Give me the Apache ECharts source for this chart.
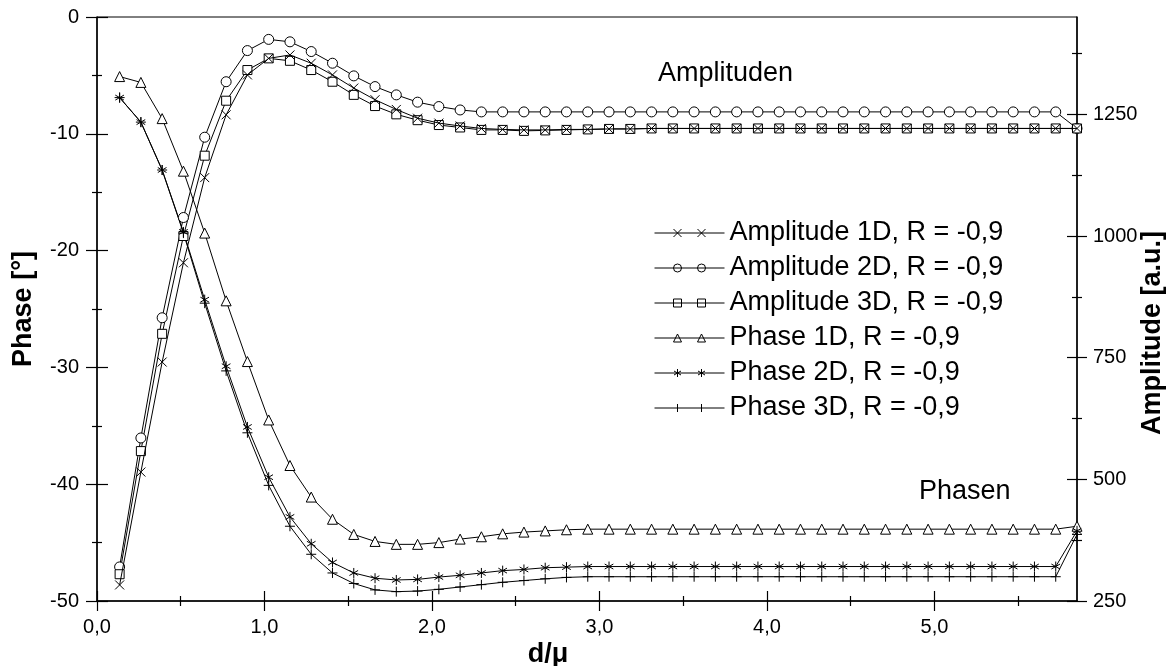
<!DOCTYPE html>
<html>
<head>
<meta charset="utf-8">
<script src="https://cdn.jsdelivr.net/npm/echarts@6/dist/echarts.min.js"></script>
<style>
html,body{margin:0;padding:0;background:#fff;}
#chart{width:1169px;height:666px;}
</style>
</head>
<body>
<div id="chart"></div>
<script>
// ---- data ----
const dValues = [0.135,0.262,0.389,0.516,0.643,0.771,0.898,1.025,1.152,1.279,1.406,1.533,1.660,1.787,1.914,2.041,2.168,2.295,2.422,2.549,2.676,2.803,2.930,3.057,3.184,3.311,3.438,3.565,3.692,3.819,3.946,4.073,4.200,4.327,4.454,4.581,4.708,4.835,4.962,5.089,5.216,5.343,5.470,5.597,5.724,5.851];

const amp1D = [283,515,741,945,1120,1249,1331,1365,1372,1355,1331,1304,1280,1260,1242,1232,1226,1221,1219,1218,1218,1219,1219,1220,1220,1221,1221,1221,1221,1221,1221,1221,1221,1221,1221,1221,1221,1221,1221,1221,1221,1221,1221,1221,1221,1221];
const amp2D = [320,585,832,1038,1203,1317,1381,1404,1399,1379,1355,1329,1307,1290,1275,1266,1259,1255,1255,1255,1255,1255,1255,1255,1255,1255,1255,1255,1255,1255,1255,1255,1255,1255,1255,1255,1255,1255,1255,1255,1255,1255,1255,1255,1255,1221];
const amp3D = [305,558,799,1000,1165,1278,1341,1365,1360,1341,1317,1290,1267,1250,1238,1228,1223,1218,1218,1216,1217,1218,1219,1220,1220,1221,1221,1221,1221,1221,1221,1221,1221,1221,1221,1221,1221,1221,1221,1221,1221,1221,1221,1221,1221,1221];

const phase1D = [-5.1,-5.6,-8.7,-13.2,-18.5,-24.3,-29.5,-34.5,-38.4,-41.1,-43.0,-44.3,-44.9,-45.15,-45.15,-45.0,-44.7,-44.5,-44.25,-44.1,-44.0,-43.9,-43.85,-43.85,-43.85,-43.85,-43.85,-43.85,-43.85,-43.85,-43.85,-43.85,-43.85,-43.85,-43.85,-43.85,-43.85,-43.85,-43.85,-43.85,-43.85,-43.85,-43.85,-43.85,-43.85,-43.6];
const phase2D = [-6.9,-9.0,-13.1,-18.4,-24.2,-29.9,-35.1,-39.4,-42.8,-45.1,-46.7,-47.6,-48.05,-48.2,-48.15,-47.95,-47.8,-47.6,-47.4,-47.3,-47.15,-47.1,-47.05,-47.05,-47.05,-47.05,-47.05,-47.05,-47.05,-47.05,-47.05,-47.05,-47.05,-47.05,-47.05,-47.05,-47.05,-47.05,-47.05,-47.05,-47.05,-47.05,-47.05,-47.05,-47.05,-44.0];
const phase3D = [-6.9,-9.0,-13.1,-18.5,-24.5,-30.3,-35.6,-40.1,-43.6,-46.0,-47.6,-48.5,-49.05,-49.2,-49.15,-49.0,-48.8,-48.6,-48.4,-48.25,-48.1,-47.98,-47.92,-47.92,-47.92,-47.92,-47.92,-47.92,-47.92,-47.92,-47.92,-47.92,-47.92,-47.92,-47.92,-47.92,-47.92,-47.92,-47.92,-47.92,-47.92,-47.92,-47.92,-47.92,-47.92,-44.3];

const seriesNames = ['Amplitude 1D, R = -0,9','Amplitude 2D, R = -0,9','Amplitude 3D, R = -0,9','Phase 1D, R = -0,9','Phase 2D, R = -0,9','Phase 3D, R = -0,9'];

const xTickValues = [0,1,2,3,4,5];
const xMinorValues = [0.5,1.5,2.5,3.5,4.5,5.5];
const ampTickValues = [250,500,750,1000,1250];
const ampMinorValues = [375,625,875,1125,1375];

// ---- styling ----
const FONT = '"Liberation Sans", Arial, Helvetica, sans-serif';
const BLACK = '#000';
const xMin = 0, xMax = dValues[dValues.length - 1];
const phaseMin = -50, phaseMax = 0;
const ampMin = 250, ampMax = 1450;

const SYM_CROSS = 'path://M0,0L10,10M10,0L0,10';
const SYM_STAR = 'path://M5,0L5,10M0.67,2.5L9.33,7.5M9.33,2.5L0.67,7.5';
const SYM_PLUS = 'path://M5,0L5,10M0,5L10,5';

const legendIcons = [
  'path://M0,4L70,4M19,0L27,8M27,0L19,8M43,0L51,8M51,0L43,8',
  'path://M0,4L70,4M19,4A4,4 0 1 1 27,4A4,4 0 1 1 19,4M43,4A4,4 0 1 1 51,4A4,4 0 1 1 43,4',
  'path://M0,4L70,4M19,0L27,0L27,8L19,8ZM43,0L51,0L51,8L43,8Z',
  'path://M0,4L70,4M23,0L27,8L19,8ZM47,0L51,8L43,8Z',
  'path://M0,4L70,4M23,0L23,8M19.5,2L26.5,6M26.5,2L19.5,6M47,0L47,8M43.5,2L50.5,6M50.5,2L43.5,6',
  'path://M0,4L70,4M23,0L23,8M47,0L47,8'
];

function toPairs(arr){ return dValues.map((d, i) => [d, arr[i]]); }

function makeSeries(name, arr, yIdx, symbol, size, z){
  return {
    name: name,
    type: 'line',
    xAxisIndex: 0,
    yAxisIndex: yIdx,
    data: toPairs(arr),
    symbol: symbol,
    symbolSize: size,
    symbolKeepAspect: true,
    showSymbol: true,
    showAllSymbol: true,
    z: z,
    lineStyle: { color: BLACK, width: 1 },
    itemStyle: { color: '#fff', borderColor: BLACK, borderWidth: 1 },
    emphasis: { disabled: true },
    animation: false
  };
}

const tickLine = { color: BLACK, width: 1.2 };
const axisLineStyle = { color: BLACK, width: 1.5 };

function xAxisDef(values, inside, len, labelled){
  return {
    type: 'value', min: xMin, max: xMax, position: 'bottom',
    axisLine: { show: labelled, onZero: false, lineStyle: axisLineStyle },
    axisTick: { show: true, inside: inside, length: len, customValues: values, lineStyle: tickLine },
    axisLabel: labelled ? {
      show: true, customValues: xTickValues, margin: 16, color: BLACK, fontSize: 20, fontFamily: FONT,
      formatter: v => v.toFixed(1).replace('.', ',')
    } : { show: false },
    splitLine: { show: false }
  };
}

function phaseAxisDef(inside, labelled){
  return {
    type: 'value', min: phaseMin, max: phaseMax, interval: 10, position: 'left',
    axisLine: { show: labelled, onZero: false, lineStyle: axisLineStyle },
    axisTick: { show: true, inside: inside, length: 11, lineStyle: tickLine },
    minorTick: { show: true, splitNumber: 2, length: 5, lineStyle: tickLine },
    axisLabel: labelled ? { show: true, margin: 18, color: BLACK, fontSize: 20, fontFamily: FONT, formatter: v => String(v) } : { show: false },
    splitLine: { show: false },
    minorSplitLine: { show: false },
    name: labelled ? 'Phase [°]' : '',
    nameLocation: 'middle',
    nameGap: 60,
    nameTextStyle: { color: BLACK, fontSize: 27, fontWeight: 'bold', fontFamily: FONT }
  };
}

function ampAxisDef(values, inside, len, labelled){
  return {
    type: 'value', min: ampMin, max: ampMax, position: 'right',
    axisLine: { show: labelled, onZero: false, lineStyle: axisLineStyle },
    axisTick: { show: true, inside: inside, length: len, customValues: values, lineStyle: tickLine },
    axisLabel: labelled ? { show: true, customValues: ampTickValues, margin: 16, color: BLACK, fontSize: 20, fontFamily: FONT, formatter: v => String(v) } : { show: false },
    splitLine: { show: false }
  };
}

const option = {
  animation: false,
  backgroundColor: '#fff',
  grid: {
    left: 97, right: 92, top: 17, bottom: 65,
    show: true, borderColor: BLACK, borderWidth: 1, backgroundColor: 'transparent',
    containLabel: false, outerBoundsMode: 'none'
  },
  xAxis: [
    xAxisDef(xTickValues, false, 10, true),
    xAxisDef(xTickValues, true, 10, false),
    xAxisDef(xMinorValues, false, 5, false),
    xAxisDef(xMinorValues, true, 5, false)
  ],
  yAxis: [
    phaseAxisDef(false, true),
    phaseAxisDef(true, false),
    ampAxisDef(ampTickValues, false, 10, true),
    ampAxisDef(ampTickValues, true, 10, false),
    ampAxisDef(ampMinorValues, false, 5, false),
    ampAxisDef(ampMinorValues, true, 5, false)
  ],
  legend: {
    orient: 'vertical',
    left: 649, top: 213,
    itemWidth: 70, itemHeight: 8, itemGap: 5,
    selectedMode: false,
    textStyle: { color: BLACK, fontSize: 27, fontFamily: FONT, lineHeight: 30 },
    data: seriesNames.map((n, i) => ({
      name: n, icon: legendIcons[i],
      itemStyle: { color: 'rgba(0,0,0,0)', borderColor: BLACK, borderWidth: 1 }
    }))
  },
  graphic: [
    { type: 'text', x: 658, y: 74, silent: true,
      style: { text: 'Amplituden', fill: BLACK, fontSize: 27, fontFamily: FONT, align: 'left', verticalAlign: 'middle' } },
    { type: 'text', x: 919, y: 492, silent: true,
      style: { text: 'Phasen', fill: BLACK, fontSize: 27, fontFamily: FONT, align: 'left', verticalAlign: 'middle' } },
    { type: 'text', x: 548, y: 655, silent: true,
      style: { text: 'd/μ', fill: BLACK, fontSize: 27, fontWeight: 'bold', fontFamily: FONT, align: 'center', verticalAlign: 'middle' } },
    { type: 'text', x: 1153, y: 333, rotation: Math.PI / 2, silent: true,
      style: { text: 'Amplitude [a.u.]', fill: BLACK, fontSize: 27, fontWeight: 'bold', fontFamily: FONT, align: 'center', verticalAlign: 'middle' } }
  ],
  series: [
    makeSeries(seriesNames[0], amp1D, 2, SYM_CROSS, 9, 4),
    makeSeries(seriesNames[1], amp2D, 2, 'circle', 10, 3),
    makeSeries(seriesNames[2], amp3D, 2, 'rect', 9, 3),
    makeSeries(seriesNames[3], phase1D, 0, 'triangle', 10, 3),
    makeSeries(seriesNames[4], phase2D, 0, SYM_STAR, 10, 3),
    makeSeries(seriesNames[5], phase3D, 0, SYM_PLUS, 10, 3)
  ]
};

const chart = echarts.init(document.getElementById('chart'), null, { renderer: 'canvas' });
chart.setOption(option);
</script>
</body>
</html>
